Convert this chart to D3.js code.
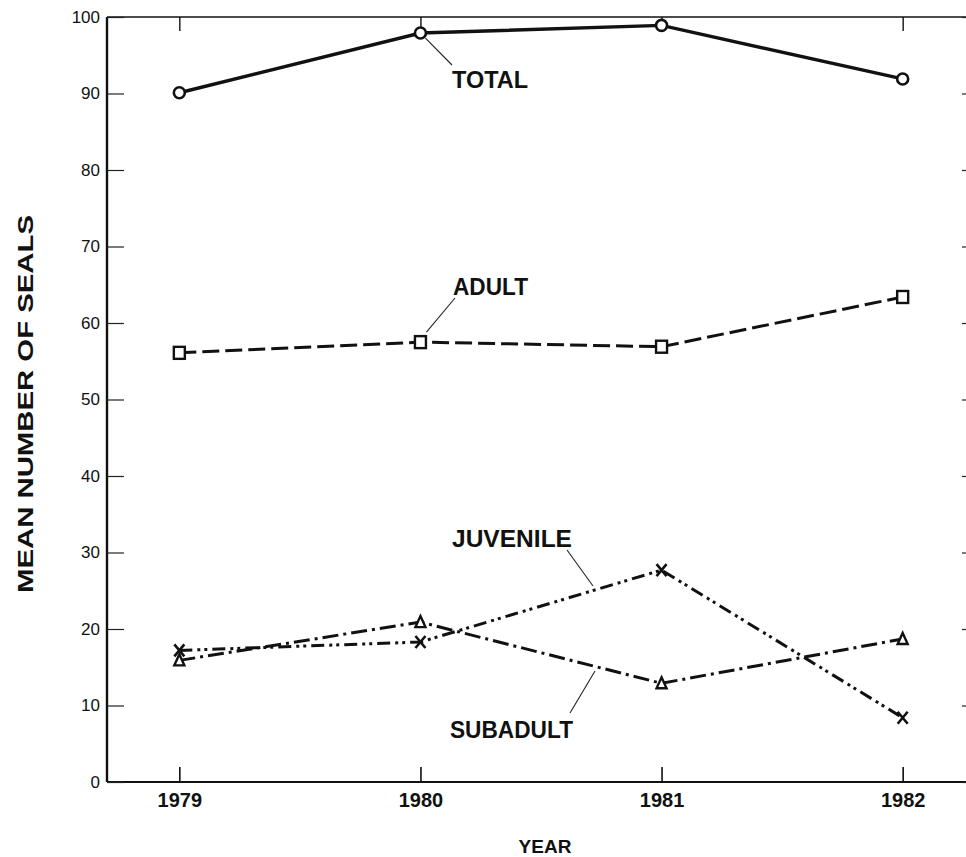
<!DOCTYPE html>
<html>
<head>
<meta charset="utf-8">
<script src="https://cdn.jsdelivr.net/npm/d3@7/dist/d3.min.js"></script>
<style>
    body { margin: 0; background: #fff; }
    svg { display: block; }
    text { font-family: "Liberation Sans", Arial, sans-serif; fill: #111; }
</style>
</head>
<body>
<div id="chart"></div>
<script>
// values
var years = [1979, 1980, 1981, 1982];
var yTicks = [0, 10, 20, 30, 40, 50, 60, 70, 80, 90, 100];
var total = [90.1, 97.9, 98.9, 91.9];
var adult = [56.1, 57.5, 56.9, 63.4];
var juvenile = [17.2, 18.3, 27.7, 8.4];
var subadult = [15.9, 20.9, 12.9, 18.7];

var width = 966, height = 857;

var svg = d3.select("#chart").append("svg")
    .attr("width", width)
    .attr("height", height);

var x = d3.scaleLinear().domain([1978.7, 1982.3]).range([107, 975]);
var y = d3.scaleLinear().domain([0, 100]).range([782, 17]);

// frame
svg.append("line").attr("x1", x(1978.7)).attr("x2", x(1982.3)).attr("y1", y(100)).attr("y2", y(100))
    .attr("stroke", "#111").attr("stroke-width", 1.6);
svg.append("line").attr("x1", x(1978.7)).attr("x2", x(1982.3)).attr("y1", y(0)).attr("y2", y(0))
    .attr("stroke", "#111").attr("stroke-width", 2.2);
svg.append("line").attr("x1", x(1978.7)).attr("x2", x(1978.7)).attr("y1", y(0)).attr("y2", y(100))
    .attr("stroke", "#111").attr("stroke-width", 2.4);
svg.append("line").attr("x1", x(1982.3)).attr("x2", x(1982.3)).attr("y1", y(0)).attr("y2", y(100))
    .attr("stroke", "#111").attr("stroke-width", 2);

// left axis, ticks inside
var yAxis = d3.axisLeft(y).tickValues(yTicks).tickSizeInner(-17).tickSizeOuter(0).tickPadding(7);
var gy = svg.append("g").attr("transform", "translate(" + x(1978.7) + ",0)").call(yAxis);
gy.select(".domain").remove();
gy.selectAll(".tick line").attr("stroke", "#222").attr("stroke-width", 1.2);
gy.selectAll(".tick text").attr("font-size", 17).attr("fill", "#111")
    .style("font-family", "'Liberation Sans', Arial, sans-serif");

// right axis ticks (frame edge sits just off the page)
var yAxisR = d3.axisRight(y).tickValues(yTicks).tickSizeInner(-13).tickSizeOuter(0).tickFormat("");
var gyr = svg.append("g").attr("transform", "translate(" + x(1982.3) + ",0)").call(yAxisR);
gyr.select(".domain").remove();
gyr.selectAll(".tick line").attr("stroke", "#222").attr("stroke-width", 1.2);

// bottom axis
var xAxis = d3.axisBottom(x).tickValues(years).tickFormat(d3.format("d"))
    .tickSizeInner(-15).tickSizeOuter(0).tickPadding(11);
var gx = svg.append("g").attr("transform", "translate(0," + y(0) + ")").call(xAxis);
gx.select(".domain").remove();
gx.selectAll(".tick line").attr("stroke", "#111").attr("stroke-width", 1.6);
gx.selectAll(".tick text").attr("font-size", 20).attr("font-weight", "bold").attr("fill", "#111")
    .style("font-family", "'Liberation Sans', Arial, sans-serif");

// top axis ticks
var xAxisT = d3.axisTop(x).tickValues(years).tickSizeInner(-14).tickSizeOuter(0).tickFormat("");
var gxt = svg.append("g").attr("transform", "translate(0," + y(100) + ")").call(xAxisT);
gxt.select(".domain").remove();
gxt.selectAll(".tick line").attr("stroke", "#111").attr("stroke-width", 1.4);

// axis titles
svg.append("text")
    .attr("transform", "translate(33,404) rotate(-90)")
    .attr("text-anchor", "middle")
    .attr("font-size", 22).attr("font-weight", "bold")
    .attr("textLength", 378).attr("lengthAdjust", "spacingAndGlyphs")
    .text("MEAN NUMBER OF SEALS");

svg.append("text")
    .attr("x", 545).attr("y", 853)
    .attr("text-anchor", "middle")
    .attr("font-size", 19).attr("font-weight", "bold")
    .text("YEAR");

// series lines
var series = [
    {name: "total", values: total, dash: null, sw: 3.4},
    {name: "adult", values: adult, dash: "17,6", sw: 3},
    {name: "juvenile", values: juvenile, dash: "13,5,3,4,3,5", sw: 3},
    {name: "subadult", values: subadult, dash: "16,5,3,5", sw: 3}
];

var line = d3.line()
    .x(function(d, i) { return x(years[i]); })
    .y(function(d) { return y(d); });

series.forEach(function(s) {
    svg.append("path")
        .datum(s.values)
        .attr("d", line)
        .attr("fill", "none")
        .attr("stroke", "#111")
        .attr("stroke-width", s.sw)
        .attr("stroke-dasharray", s.dash);
});

// markers
svg.selectAll(".m-total").data(total).enter().append("circle")
    .attr("cx", function(d, i) { return x(years[i]); })
    .attr("cy", function(d) { return y(d); })
    .attr("r", 5.5)
    .attr("fill", "#fff").attr("stroke", "#111").attr("stroke-width", 2.6);

svg.selectAll(".m-adult").data(adult).enter().append("rect")
    .attr("x", function(d, i) { return x(years[i]) - 5.5; })
    .attr("y", function(d) { return y(d) - 6; })
    .attr("width", 11).attr("height", 12)
    .attr("fill", "#fff").attr("stroke", "#111").attr("stroke-width", 2.4);

svg.selectAll(".m-sub").data(subadult).enter().append("path")
    .attr("transform", function(d, i) { return "translate(" + x(years[i]) + "," + y(d) + ")"; })
    .attr("d", "M0,-6L5,5L-5,5Z")
    .attr("fill", "#fff").attr("stroke", "#111").attr("stroke-width", 2.4);

svg.selectAll(".m-juv").data(juvenile).enter().append("path")
    .attr("transform", function(d, i) { return "translate(" + x(years[i]) + "," + y(d) + ")"; })
    .attr("d", "M-5,-6L5,6M5,-6L-5,6")
    .attr("fill", "none").attr("stroke", "#111").attr("stroke-width", 2.6);

// series labels with leader lines
var labels = [
    {text: "TOTAL", x: 452, y: 88, w: 76, lx1: x(1980) + 5, ly1: y(total[1]) + 5, lx2: 452, ly2: 65},
    {text: "ADULT", x: 453, y: 295, w: 75, lx1: x(1980) + 6, ly1: y(adult[1]) - 10, lx2: 455, ly2: 298},
    {text: "JUVENILE", x: 452, y: 547, w: 120, lx1: 567, ly1: 550, lx2: 593, ly2: 586},
    {text: "SUBADULT", x: 450, y: 738, w: 123, lx1: 570, ly1: 713, lx2: 595, ly2: 671}
];

labels.forEach(function(l) {
    svg.append("line")
        .attr("x1", l.lx1).attr("y1", l.ly1).attr("x2", l.lx2).attr("y2", l.ly2)
        .attr("stroke", "#222").attr("stroke-width", 1.1);
    svg.append("text")
        .attr("x", l.x).attr("y", l.y)
        .attr("font-size", 24).attr("font-weight", "bold")
        .attr("textLength", l.w).attr("lengthAdjust", "spacingAndGlyphs")
        .text(l.text);
});
</script>
</body>
</html>
